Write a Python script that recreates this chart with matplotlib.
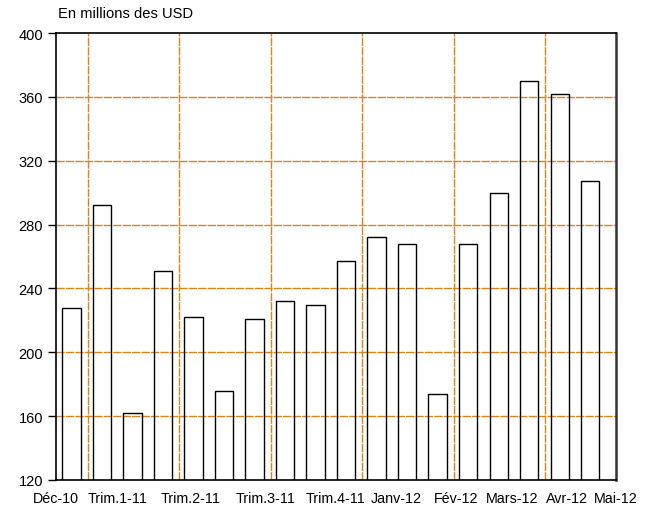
import matplotlib
matplotlib.use("Agg")
import matplotlib.pyplot as plt
import numpy as np

# ── Data ──────────────────────────────────────────────────────────────────────
values = [228, 292, 162, 251, 222, 176, 221, 232, 229.5, 257,
          272, 268, 174, 268, 300, 370, 362, 307]

tick_labels = ["Déc-10", "Trim.1-11", "Trim.2-11", "Trim.3-11", "Trim.4-11",
               "Janv-12", "Fév-12", "Mars-12", "Avr-12", "Mai-12"]

# where the labels sit along the bar axis (bar index units)
label_pos = [-0.52, 1.52, 3.9, 6.35, 8.64, 10.64, 12.6, 14.44, 16.23, 17.83]

y_ticks = [120, 160, 200, 240, 280, 320, 360, 400]

# ── Plot ──────────────────────────────────────────────────────────────────────
plt.rcParams["font.family"] = ["Liberation Sans", "DejaVu Sans"]

fig = plt.figure(figsize=(6.59, 5.10), dpi=100)
ax = fig.add_axes([0.0845, 0.057, 0.934 - 0.0845, 0.9333 - 0.057])

grid_col = "#DA8614"
x = np.arange(len(values))

ax.bar(x, values, width=0.6, bottom=0, facecolor="none",
       edgecolor="black", linewidth=1.0, zorder=3)

ax.set_xlim(-0.5, len(values) - 0.5)
ax.set_ylim(120, 400)

# horizontal grid
for yv in y_ticks[1:-1]:
    ax.axhline(yv, color=grid_col, linewidth=1.0, linestyle=(0, (6, 0.8)),
               zorder=2)
# vertical grid, every three bars
for xv in np.arange(0.53, len(values), 3):
    ax.axvline(xv, color=grid_col, linewidth=1.0, linestyle=(0, (6, 0.8)),
               zorder=2)

ax.set_yticks(y_ticks)
ax.tick_params(axis="y", direction="out", length=6, width=1, pad=3,
               labelsize=10.5)
ax.set_xticks(label_pos)
ax.set_xticklabels(tick_labels)
ax.tick_params(axis="x", length=0, pad=8, labelsize=10.3)

for side in ["left", "bottom", "top"]:
    ax.spines[side].set_color("black")
    ax.spines[side].set_linewidth(1.2)
ax.spines["right"].set_color("#333333")
ax.spines["right"].set_linewidth(1.8)

fig.text(58 / 659, 1 - 14 / 510, "En millions des USD", fontsize=10.6,
         ha="left", va="center")

plt.savefig("out.png", dpi=100)
